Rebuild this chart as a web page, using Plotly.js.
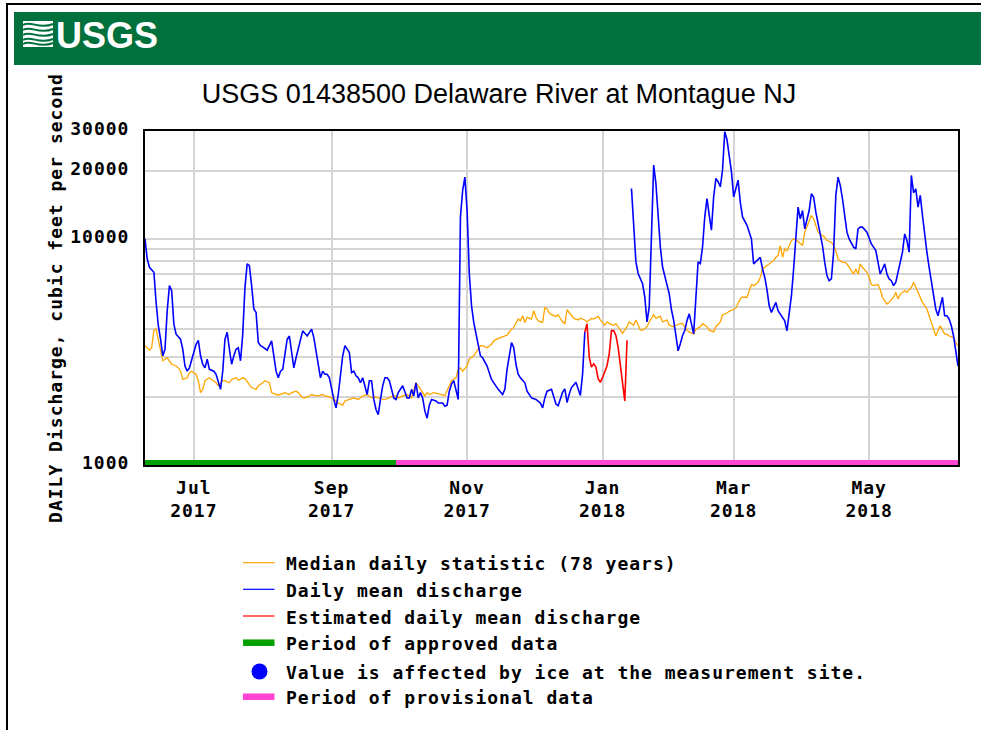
<!DOCTYPE html>
<html>
<head>
<meta charset="utf-8">
<script src="https://cdn.plot.ly/plotly-3.0.1.min.js"></script>
<style>
html,body{margin:0;padding:0;background:#fff;}
#chart{width:981px;height:730px;}
#chart .xtick text, #chart .ytick text, #chart .g-ytitle text, #chart .annotation-text{letter-spacing:1px;}
#chart g.annotation[data-index="6"] text.annotation-text{letter-spacing:0;}
</style>
</head>
<body>
<div id="chart"></div>
<script>
// ---- DATA (day index counted from 2017-06-09) ----
const chartTitle = 'USGS 01438500 Delaware River at Montague NJ';
const yAxisTitle = 'DAILY Discharge, cubic feet per second';

const medianDays = [0,2,3,4,5,6,7,8,10,11,12,14,15,16,17,19,20,21,23,24,25,26,27,29,30,32,33,35,36,38,39,41,42,44,45,47,48,50,51,53,54,56,57,59,60,62,63,65,66,68,69,71,72,74,75,77,78,80,81,83,84,86,87,89,90,92,94,96,98,100,102,104,106,108,110,112,114,116,118,120,121,122,123,124,126,127,128,130,132,134,135,137,138,140,141,142,143,145,146,148,149,151,152,154,156,157,159,161,163,165,166,168,169,170,171,172,174,175,176,177,179,180,181,182,183,185,186,188,189,190,192,193,195,196,198,199,201,202,204,205,207,208,209,211,212,214,215,217,218,220,221,223,224,226,227,229,230,232,233,235,236,238,239,241,242,244,245,247,248,250,251,253,254,256,257,259,260,262,263,265,266,268,269,271,272,273,274,276,277,278,280,281,283,284,285,286,287,288,289,291,292,293,295,296,297,299,300,301,302,303,304,306,307,309,310,311,312,314,315,316,318,319,320,321,322,323,325,326,327,328,330,331,332,334,335,337,338,339,340,342,343,345,346,347,349,350,352,353,354,355,356,357,358,360,361,362,364,365,366];
const medianFlow = [3370,3220,3300,3950,3990,3600,3200,2890,2980,2890,2790,2740,2690,2600,2390,2430,2560,2600,2520,2360,2090,2160,2360,2430,2390,2310,2240,2360,2360,2310,2390,2430,2370,2430,2410,2280,2200,2160,2240,2310,2360,2310,2090,2050,2040,2070,2090,2050,2090,2120,2090,1980,1980,2020,2050,2020,2020,2050,2020,2000,1980,1920,1880,1840,1920,1950,1980,1950,2020,2050,1980,2000,1960,1950,1980,2030,1980,2020,2050,1980,2120,2310,2240,2160,2020,2090,2050,2090,2070,2050,2030,2240,2360,2430,2650,2690,2600,2740,2940,3040,3140,3370,3370,3300,3420,3540,3630,3700,3750,3990,4060,4420,4340,4570,4270,4500,4420,4810,4500,4340,4270,4970,4900,4700,4620,4540,4620,4290,4220,4860,4620,4460,4380,4460,4380,4290,4460,4420,4540,4380,4150,4290,4220,4150,4220,3950,3820,4090,4290,4150,4380,3950,3950,4090,4290,4620,4460,4540,4290,4380,4150,4090,4150,4220,4220,3950,3870,3800,3990,4090,4220,4090,3950,3880,4090,4290,4620,4700,4790,4870,4950,5440,5530,5520,5960,6280,6210,6430,6770,7360,7620,7750,8010,8290,8440,9340,8290,9030,8870,9830,10000,9930,9500,9340,10710,12050,12690,12260,11460,10710,10520,10170,9830,9670,9340,8870,8150,7880,7880,7750,7240,6990,7360,6990,7750,7490,7120,6770,6280,6210,6280,5960,5520,5150,5240,5520,5800,5420,5700,5900,5800,6100,6430,6100,5600,5240,4900,4570,4270,3920,3720,3920,4130,3790,3790,3720,3660,3480,3370];

const meanDays1 = [0,1,2,4,5,6,7,8,9,10,11,12,13,14,16,17,18,19,20,22,23,24,25,26,27,28,29,31,32,34,35,36,37,38,39,40,41,42,43,44,45,46,47,48,49,50,51,52,53,55,56,57,58,59,60,61,62,64,65,66,67,68,70,71,73,74,75,76,78,79,80,81,82,83,85,86,87,88,89,90,92,93,94,95,96,97,98,100,101,102,103,104,105,106,107,108,109,110,112,113,114,116,117,118,119,120,121,122,123,124,125,126,127,128,129,131,132,134,135,136,137,138,139,140,141,142,143,144,145,146,147,148,149,150,151,152,154,156,159,161,162,163,165,166,167,168,169,171,172,174,176,178,179,180,181,183,184,185,186,188,189,190,191,192,194,195,196,197,198];
const meanFlow1 = [10000,8150,7490,7120,5240,4130,3600,3040,3250,4810,6210,5900,4200,3790,3600,3250,2740,2600,2690,3140,3420,3560,3040,2790,2690,2940,2650,2600,2520,2160,2600,3600,3860,3250,2790,3040,3250,3300,2890,3790,6100,7750,7620,6210,4900,4730,3480,3370,3330,3220,3370,3540,3040,2600,2430,2600,2650,3600,3720,3200,2690,2980,3540,3920,3720,3860,3990,3660,2790,2430,2600,2520,2520,2430,1950,1790,2050,2430,3040,3370,3140,2560,2600,2480,2430,2310,2430,2050,2360,2360,1950,1760,1670,1950,2240,2430,2430,2360,1980,1950,2090,2240,2120,1980,1980,2160,2020,2310,1980,2090,1980,1730,1610,1840,1950,1920,1880,1880,1820,1840,2120,2280,2360,2160,1950,12480,16370,18760,13350,7000,5060,4270,3790,3420,3040,2980,2740,2390,2160,2050,2160,2650,3480,3300,2790,2520,2430,2310,2120,1980,1950,1880,1790,1980,2120,2160,1990,1860,1830,2100,2170,1890,2060,2200,2320,2170,2030,2530,3870];

const meanDays2 = [219,220,221,222,223,224,225,226,227,228,229,230,231,232,233,234,235,236,237,238,239,240,241,242,243,244,245,246,247,248,249,250,251,252,253,254,255,256,257,258,259,260,261,262,264,265,266,267,268,269,271,272,273,274,276,277,278,279,280,281,282,284,285,286,288,289,290,291,292,293,294,295,296,297,299,300,301,302,303,304,305,306,307,308,309,310,311,312,313,314,315,316,317,319,320,321,322,323,325,326,327,329,330,331,332,333,334,335,336,337,338,339,341,342,343,344,345,346,347,348,349,350,351,352,353,354,355,356,357,358,359,360,361,362,363,364,365,366];
const meanFlow2 = [16710,11000,7910,7030,6670,6330,5530,4290,5000,11900,21220,17590,12000,9210,7510,6790,6330,5710,4860,4360,3740,3200,3440,3740,3930,4360,4660,4140,3800,5500,7910,7780,9210,12520,15080,12730,10930,15340,18500,17900,17000,20170,29800,27460,19820,15340,16710,18180,14500,12500,11480,10670,10000,7750,8150,8290,7360,6770,5960,5060,4730,5240,4810,4650,4340,3920,4730,5600,7360,10170,13820,12260,13350,11080,13350,15830,15300,13130,11650,10520,9340,7880,6880,6530,6650,8730,15570,18760,17230,15040,12900,10710,10000,9190,9030,11080,11270,11270,10710,10000,9500,8870,7750,6990,7360,7750,6990,6650,6530,6210,6430,7120,8730,10520,9830,8730,19080,16000,16650,13820,15570,12690,10340,8730,7490,6530,5700,4900,4570,5060,5520,4570,4570,4420,4130,3720,3250,2740];

const estDays = [198,199,200,201,202,203,204,205,206,207,208,209,210,211,212,213,214,215,216,217];
const estFlow = [3870,4210,3000,2710,2800,2710,2410,2320,2440,2610,2750,3110,3930,3930,3740,3310,2710,2250,1920,3560];

const approvedPeriod = ['2017-06-09','2017-09-30'];
const provisionalPeriod = ['2017-09-30','2018-06-10'];
const iceDates = ['2018-01-12'];
const baseFlow = 1000;

const xTickVals = ['2017-07-01','2017-09-01','2017-11-01','2018-01-01','2018-03-01','2018-05-01'];
const xTickText = ['Jul<br>2017','Sep<br>2017','Nov<br>2017','Jan<br>2018','Mar<br>2018','May<br>2018'];
const yTickVals = [1000,2000,3000,4000,5000,6000,7000,8000,9000,10000,20000,30000];
const yTickText = ['1000','','','','','','','','','10000','20000','30000'];

const legendLabels = [
  'Median daily statistic (78 years)',
  'Daily mean discharge',
  'Estimated daily mean discharge',
  'Period of approved data',
  'Value is affected by ice at the measurement site.',
  'Period of provisional data'
];

// ---- helpers ----
function dayToDate(d){
  return new Date(Date.UTC(2017,5,9) + d*86400000).toISOString().slice(0,10);
}
const W = 981, H = 730;
const L = 145, R = 958, T = 131, B = 465;
function px(X){ return (X - L) / (R - L); }
function py(Y){ return (B - Y) / (B - T); }

const mono = 'DejaVu Sans Mono, monospace';
const sans = 'Liberation Sans, Arial, sans-serif';

const blueX = meanDays1.map(dayToDate).concat([null], meanDays2.map(dayToDate));
const blueY = meanFlow1.concat([null], meanFlow2);

const cOrange = '#ffa500', cBlue = '#0000ff', cRed = '#ff0000', cGreen = '#00a000', cPink = '#ff44d4';

const traces = [
  {x: approvedPeriod, y: [baseFlow, baseFlow], mode:'lines', line:{color:cGreen, width:10}, showlegend:false, hoverinfo:'skip', name: legendLabels[3]},
  {x: provisionalPeriod, y: [baseFlow, baseFlow], mode:'lines', line:{color:cPink, width:10}, showlegend:false, hoverinfo:'skip', name: legendLabels[5]},
  {x: medianDays.map(dayToDate), y: medianFlow, mode:'lines', line:{color:cOrange, width:1.3}, showlegend:false, name: legendLabels[0]},
  {x: blueX, y: blueY, mode:'lines', connectgaps:false, line:{color:cBlue, width:1.6}, showlegend:false, name: legendLabels[1]},
  {x: estDays.map(dayToDate), y: estFlow, mode:'lines', line:{color:cRed, width:1.6}, showlegend:false, name: legendLabels[2]},
  {x: iceDates, y: iceDates.map(()=>baseFlow), mode:'markers', marker:{color:cBlue, size:17}, cliponaxis:false, showlegend:false, name: legendLabels[4]}
];

// custom legend and page decoration
const legRows = [562.7, 589.3, 616, 642.7, 671.5, 696.7];
const shapes = [
  {type:'rect', xref:'paper', yref:'paper', x0:px(7), x1:px(1000), y0:py(4), y1:py(760), line:{color:'#000', width:2}, fillcolor:'rgba(0,0,0,0)', layer:'below'},
  {type:'rect', xref:'paper', yref:'paper', x0:px(14), x1:px(1000), y0:py(12), y1:py(65), line:{width:0}, fillcolor:'#00703c', layer:'below'},
  {type:'rect', xref:'paper', yref:'paper', x0:px(23), x1:px(53), y0:py(21), y1:py(47), line:{width:0}, fillcolor:'#ffffff', layer:'above'}
];
function wave(y0){
  const p = [[23,y0],[31,y0-5],[39,y0+5],[53,y0-1]];
  return 'M' + px(p[0][0]) + ',' + py(p[0][1]) + ' C' + px(p[1][0]) + ',' + py(p[1][1]) + ' ' + px(p[2][0]) + ',' + py(p[2][1]) + ' ' + px(p[3][0]) + ',' + py(p[3][1]);
}
[25, 30, 35, 40, 44].forEach(function(y){
  shapes.push({type:'path', xref:'paper', yref:'paper', path: wave(y), line:{color:'#00703c', width:2}, layer:'above'});
});
const legColors = [cOrange, cBlue, cRed, cGreen, cBlue, cPink];
const legWidths = [1.2, 1.2, 1.2, 6.5, 0, 6.5];
legRows.forEach(function(Y, i){
  if (i === 4) {
    shapes.push({type:'circle', xref:'paper', yref:'paper', x0:px(251.5), x1:px(267.5), y0:py(Y - 8), y1:py(Y + 8), fillcolor:cBlue, line:{width:0}});
  } else {
    shapes.push({type:'line', xref:'paper', yref:'paper', x0:px(243), x1:px(274.5), y0:py(Y), y1:py(Y), line:{color:legColors[i], width:legWidths[i]}});
  }
});

const annotations = legendLabels.map(function(t, i){
  return {text:t, xref:'paper', yref:'paper', x:px(284), y:py(legRows[i] + 1), xanchor:'left', yanchor:'middle', align:'left', showarrow:false,
          font:{family:mono, size:18, color:'#000', weight:'bold'}};
});
annotations.push({text:'USGS', xref:'paper', yref:'paper', x:px(54), y:py(35.5), xanchor:'left', yanchor:'middle', showarrow:false,
                  font:{family:sans, size:36, color:'#ffffff', weight:'bold'}});

const layout = {
  width: W, height: H,
  margin: {l: L, r: W - R, t: T, b: H - B, pad: 0},
  paper_bgcolor: '#ffffff', plot_bgcolor: '#ffffff',
  showlegend: false,
  title: {text: chartTitle, x: 499 / W, xref: 'container', xanchor: 'center', y: 1 - 94 / H, yref: 'container', yanchor: 'middle',
          font: {family: sans, size: 27, color: '#000'}},
  xaxis: {
    type: 'date', range: ['2017-06-09', '2018-06-10'],
    tickmode: 'array', tickvals: xTickVals, ticktext: xTickText,
    showgrid: true, gridcolor: '#d4d4d4', gridwidth: 2,
    showline: true, linecolor: '#000', linewidth: 2, mirror: true,
    ticks: '', ticklabelstandoff: 5, zeroline: false,
    tickfont: {family: mono, size: 18, color: '#000', weight: 'bold'}
  },
  yaxis: {
    type: 'log', range: [Math.log10(1000), Math.log10(30000)],
    tickmode: 'array', tickvals: yTickVals, ticktext: yTickText,
    showgrid: true, gridcolor: '#d4d4d4', gridwidth: 2,
    showline: true, linecolor: '#000', linewidth: 2, mirror: true,
    ticks: '', ticklabelstandoff: 10, ticklabelshift: -2, zeroline: false,
    tickfont: {family: mono, size: 18, color: '#000', weight: 'bold'},
    title: {text: yAxisTitle, standoff: 8, font: {family: mono, size: 18, color: '#000', weight: 'bold'}}
  },
  shapes: shapes,
  annotations: annotations
};

Plotly.newPlot('chart', traces, layout, {displayModeBar: false, staticPlot: true});
</script>
</body>
</html>
